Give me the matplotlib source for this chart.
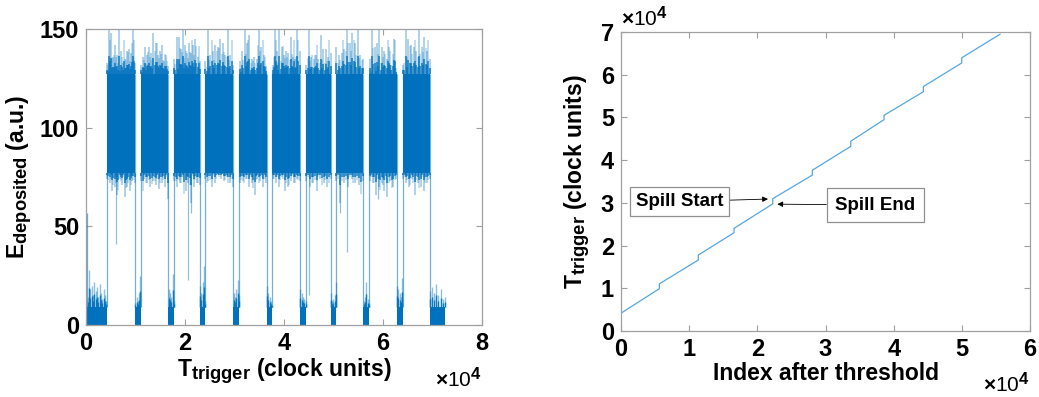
import numpy as np
import matplotlib
matplotlib.use("Agg")
import matplotlib.pyplot as plt
try:
    import matplotlib._mathtext as _mt
    _mt.SHRINK_FACTOR = 0.8
except Exception:
    pass

plt.rcParams['font.family'] = ['Liberation Sans', 'DejaVu Sans']
plt.rcParams['mathtext.fontset'] = 'custom'
plt.rcParams['mathtext.rm'] = 'Liberation Sans:bold'
plt.rcParams['mathtext.bf'] = 'Liberation Sans:bold'
plt.rcParams['mathtext.it'] = 'Liberation Sans:bold'

# ---------------- data (x in units of 1e4 clock units) ----------------
spill_start = [0.417, 1.104, 1.778, 2.404, 3.098, 3.764, 4.444, 5.050, 5.724, 6.397]
spill_end   = [0.990, 1.663, 2.303, 2.976, 3.650, 4.323, 4.949, 5.603, 6.276, 6.949]
record_start = 0.0
record_end = 7.25

core_low = 77.0
core_high = 127.0

upper_spikes = [
    [133, 150, 148, 136, 142, 137, 150, 139, 133, 135, 139, 140, 138, 150, 133],
    [132, 136, 141, 137, 141, 138, 148, 143, 137, 139, 142, 134, 137, 131],
    [135, 146, 146, 140, 150, 142, 138, 143, 138, 142, 145, 136, 134],
    [134, 150, 137, 139, 142, 141, 145, 143, 137, 150, 137, 132],
    [134, 139, 150, 143, 147, 135, 136, 135, 150, 141, 137, 131],
    [132, 150, 139, 150, 141, 137, 139, 138, 146, 136, 135, 150, 139],
    [132, 150, 136, 135, 137, 135, 147, 140, 140, 136, 138],
    [141, 137, 138, 140, 150, 143, 148, 143, 150, 137, 135],
    [135, 150, 141, 143, 150, 141, 139, 135, 141, 132, 145, 130],
    [132, 150, 145, 142, 141, 139, 150, 141, 146, 139, 135],
]
lower_dips = [
    [74, 72, 68, 70, 66, 74, 71, 65, 70, 68, 73, 72],
    [73, 74, 72, 70, 73, 71, 69, 72, 70, 64],
    [73, 70, 72, 75, 68, 72, 62, 70, 72, 71],
    [74, 73, 70, 72, 76, 74, 73, 75, 72, 70],
    [72, 73, 74, 70, 72, 66, 74, 73, 70, 72],
    [74, 72, 70, 75, 68, 70, 73, 72, 74, 73],
    [73, 70, 72, 68, 74, 72, 70, 74],
    [73, 62, 72, 70, 74, 72, 71, 73],
    [73, 72, 66, 70, 72, 68, 65, 73, 70, 74],
    [74, 72, 70, 74, 66, 72, 70, 68, 72, 74],
]
# isolated drop-outs inside spills: (x, lowest value)
dropout_x = [0.60, 2.07, 2.12, 4.51, 5.13, 5.27, 5.89]
dropout_y = [41, 23, 57, 15, 57, 37, 64]
# a lone line at the very start of the record
first_line_x = 0.01
first_line_y = 57

# low (inter-spill) bursts: core top and spike values
low_core = 9.0
low_bursts = [
    [12, 14, 28, 18, 20, 15, 22, 17, 19, 14, 21, 16, 13, 18, 15, 12],
    [11, 14, 12, 16, 25],
    [18, 16, 14, 26, 12],
    [20, 16, 22, 30, 12],
    [16, 14, 18, 23, 15],
    [20, 16, 14, 12, 10],
    [18, 16, 14, 13, 12],
    [16, 12, 13, 15, 22],
    [12, 14, 22, 13, 11],
    [20, 18, 16, 14, 24],
    [17, 19, 16, 21, 15, 18, 13, 14],
]

# right panel: index (x1e4) where each spill begins, plus final index
spill_index = [0.0, 0.562, 1.134, 1.658, 2.225, 2.806, 3.370, 3.858, 4.435, 4.998, 5.560]

# ---------------- figure ----------------
blue = '#0072BD'
light = '#55A6E0'
gray = '#A0A0A0'

fig = plt.figure(figsize=(10.39, 3.97), dpi=100)
ax1 = fig.add_axes([0.0828, 0.1814, 0.3811, 0.7456])
ax2 = fig.add_axes([0.5977, 0.1662, 0.3937, 0.7531])

low_bounds = [(record_start, spill_start[0])]
for k in range(len(spill_start) - 1):
    low_bounds.append((spill_end[k], spill_start[k + 1]))
low_bounds.append((spill_end[-1], record_end))

# low bursts
for (a, b), vals in zip(low_bounds, low_bursts):
    v = np.array(vals, float)
    ax1.fill_between([a, b], 0, low_core, color=blue, lw=0)
    xs = np.linspace(a + 0.004, b - 0.004, len(v))
    ax1.vlines(xs, low_core, v, color=blue, alpha=0.45, lw=1.0)
    ax1.vlines(xs, low_core, low_core + (v - low_core) * 0.5, color=blue, alpha=0.9, lw=1.0)

# spills
for k in range(len(spill_start)):
    a, b = spill_start[k], spill_end[k]
    ax1.fill_between([a, b], core_low, core_high, color=blue, lw=0)
    up = np.array(upper_spikes[k], float)
    xs = np.linspace(a + 0.008, b - 0.008, len(up))
    xs2 = (xs[:-1] + xs[1:]) / 2
    ax1.vlines(xs, core_high, up, color=blue, alpha=0.4, lw=1.1)
    ax1.vlines(xs2, core_high, core_high + (up[::-1][:-1] - core_high) * 0.75, color=blue, alpha=0.3, lw=1.1)
    ax1.vlines(xs, core_high, core_high + (up - core_high) * 0.4, color=blue, alpha=0.9, lw=1.1)
    ax1.vlines(xs2, core_high, core_high + (up[::-1][:-1] - core_high) * 0.3, color=blue, alpha=0.85, lw=1.1)
    dn = np.array(lower_dips[k], float)
    xs = np.linspace(a + 0.008, b - 0.008, len(dn))
    xs2 = (xs[:-1] + xs[1:]) / 2
    ax1.vlines(xs, dn, core_low, color=blue, alpha=0.4, lw=1.1)
    ax1.vlines(xs2, core_low - (core_low - dn[::-1][:-1]) * 0.7, core_low, color=blue, alpha=0.3, lw=1.1)
    ax1.vlines(xs, core_low - (core_low - dn) * 0.4, core_low, color=blue, alpha=0.9, lw=1.1)
    ax1.vlines(xs2, core_low - (core_low - dn[::-1][:-1]) * 0.3, core_low, color=blue, alpha=0.85, lw=1.1)
    # transitions between low and high levels
    ax1.vlines([a, b], low_core, core_high, color=blue, alpha=0.55, lw=0.9)

ax1.vlines(dropout_x, dropout_y, core_low, color=blue, alpha=0.45, lw=0.9)
ax1.vlines([first_line_x], 0, first_line_y, color=blue, alpha=0.6, lw=0.9)

ax1.set_xlim(0, 8)
ax1.set_ylim(0, 150)
ax1.set_xticks([0, 2, 4, 6, 8])
ax1.set_yticks([0, 50, 100, 150])
ax1.set_xlabel(r'$\mathbf{T_{trigger}}$ (clock units)', fontsize=16.5, fontweight='bold', labelpad=1)
ax1.set_ylabel(r'$\mathbf{E_{deposited}}$ (a.u.)', fontsize=16.5, fontweight='bold', labelpad=4)
ax1.text(1.0, -0.14, r'$\times$10$^{4}$', transform=ax1.transAxes, ha='right', va='top',
         fontsize=15)

# right panel line
px, py = [], []
for k in range(len(spill_start)):
    px += [spill_index[k], spill_index[k + 1]]
    py += [spill_start[k], spill_end[k]]
ax2.plot(px, py, color=light, lw=0.9)

ax2.set_xlim(0, 6)
ax2.set_ylim(0, 7)
ax2.set_xticks(range(0, 7))
ax2.set_yticks(range(0, 8))
ax2.set_xlabel('Index after threshold', fontsize=16.5, fontweight='bold', labelpad=1)
ax2.set_ylabel(r'$\mathbf{T_{trigger}}$ (clock units)', fontsize=16.5, fontweight='bold', labelpad=6)
ax2.text(1.0, -0.135, r'$\times$10$^{4}$', transform=ax2.transAxes, ha='right', va='top', fontsize=15)
ax2.text(0.0, 1.005, r'$\times$10$^{4}$', transform=ax2.transAxes, ha='left', va='bottom', fontsize=15)

bbox = dict(boxstyle='square,pad=0.3', fc='white', ec='#909090', lw=0.9)
ax2.annotate('Spill Start', xy=(2.156, 3.09), xytext=(0.86, 3.03), fontsize=13.5, fontweight='bold',
             ha='center', va='center', bbox=bbox,
             arrowprops=dict(arrowstyle='-|>', color='black', lw=0.6, mutation_scale=8, shrinkA=0, shrinkB=0))
ax2.annotate('Spill End', xy=(2.293, 2.97), xytext=(3.73, 2.95), fontsize=13.5, fontweight='bold',
             ha='center', va='center', bbox=dict(boxstyle='square,pad=0.45', fc='white', ec='#909090', lw=0.9),
             arrowprops=dict(arrowstyle='-|>', color='black', lw=0.6, mutation_scale=8, shrinkA=0, shrinkB=0))

for ax in (ax1, ax2):
    for s in ax.spines.values():
        s.set_color(gray)
        s.set_linewidth(0.9)
    ax.tick_params(direction='in', length=4, width=0.8, color=gray, top=True, right=True,
                   labelsize=17, pad=5)
    for lab in ax.get_xticklabels() + ax.get_yticklabels():
        lab.set_fontweight('bold')

fig.savefig('out.png', dpi=100)
